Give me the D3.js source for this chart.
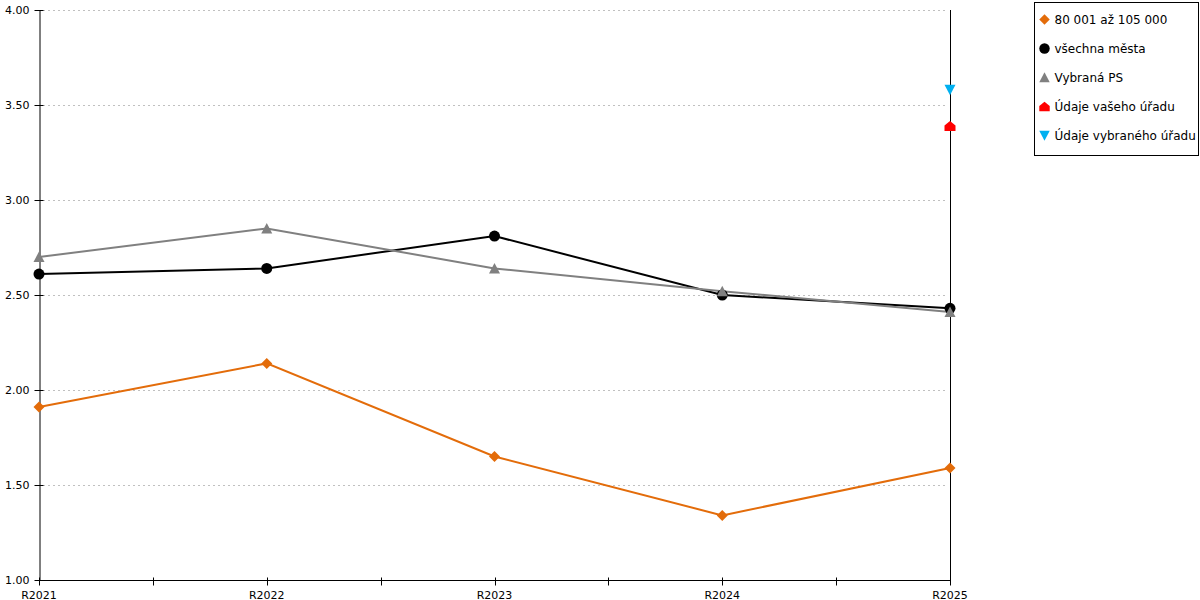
<!DOCTYPE html>
<html>
<head>
<meta charset="utf-8">
<script src="https://cdn.jsdelivr.net/npm/d3@7"></script>
<style>
  body { margin: 0; background: #fff; }
  svg { font-family: "DejaVu Sans", Verdana, sans-serif; }
</style>
</head>
<body>
<div id="chart"></div>
<script>
const width = 1200;
const height = 600;

const categories = ["R2021", "R2022", "R2023", "R2024", "R2025"];
const yTicks = [1.0, 1.5, 2.0, 2.5, 3.0, 3.5, 4.0];

const sizeGroup = [1.91, 2.14, 1.65, 1.34, 1.59];
const allCities = [2.61, 2.64, 2.81, 2.5, 2.43];
const selectedPS = [2.7, 2.85, 2.64, 2.52, 2.41];
const yourOffice = [null, null, null, null, 3.39];
const selectedOffice = [null, null, null, null, 3.58];

const series = [
  { name: "80 001 až 105 000", values: sizeGroup, color: "#e36c0a", shape: "diamond", line: true },
  { name: "všechna města", values: allCities, color: "#000000", shape: "circle", line: true },
  { name: "Vybraná PS", values: selectedPS, color: "#808080", shape: "triangle", line: true },
  { name: "Údaje vašeho úřadu", values: yourOffice, color: "#ff0000", shape: "house", line: false },
  { name: "Údaje vybraného úřadu", values: selectedOffice, color: "#00b0f0", shape: "triangleDown", line: false },
];

const shapes = {
  diamond: "M0,-5.5L5.5,0L0,5.5L-5.5,0Z",
  circle: d3.symbol(d3.symbolCircle, 95)(),
  triangle: "M0,-5.5L5.5,5L-5.5,5Z",
  house: "M-5.5,5L5.5,5L5.5,-0.5L0,-5L-5.5,-0.5Z",
  triangleDown: "M-5.5,-5L5.5,-5L0,5.5Z",
};

const margin = { left: 39, right: 950, top: 10, bottom: 580 };

const x = d3.scalePoint().domain(categories).range([margin.left, margin.right]);
const y = d3.scaleLinear().domain([1, 4]).range([margin.bottom, margin.top]);

const svg = d3.select("#chart")
  .append("svg")
  .attr("width", width)
  .attr("height", height);

// grid
svg.append("g")
  .selectAll("line")
  .data(yTicks.filter((d) => d > 1))
  .enter()
  .append("line")
  .attr("x1", margin.left + 4)
  .attr("x2", margin.right - 3)
  .attr("y1", (d) => y(d) + 0.5)
  .attr("y2", (d) => y(d) + 0.5)
  .attr("stroke", "#c0c0c0")
  .attr("stroke-dasharray", "2,3");

// y axis
const yAxis = svg.append("g")
  .attr("transform", `translate(${margin.left + 0.5},0)`)
  .call(d3.axisLeft(y).tickValues(yTicks).tickFormat(d3.format(".2f")).tickSize(0).tickPadding(10));
yAxis.select(".domain").attr("stroke", "#000");
yAxis.selectAll(".tick")
  .append("line")
  .attr("x1", -5)
  .attr("x2", 4)
  .attr("stroke", "#000");
yAxis.selectAll("text").attr("font-size", 11).attr("fill", "#000")
  .attr("font-family", "DejaVu Sans, Verdana, sans-serif");

// x axis
const xAxis = svg.append("g")
  .attr("transform", `translate(0,${margin.bottom + 0.5})`);
xAxis.append("line")
  .attr("x1", margin.left)
  .attr("x2", margin.right)
  .attr("stroke", "#000");

const step = x.step();
const tickPos = [];
categories.forEach((c, i) => {
  tickPos.push(x(c));
  if (i < categories.length - 1) tickPos.push(x(c) + step / 2);
});
xAxis.selectAll("line.tick")
  .data(tickPos)
  .enter()
  .append("line")
  .attr("class", "tick")
  .attr("x1", (d) => Math.round(d) + 0.5)
  .attr("x2", (d) => Math.round(d) + 0.5)
  .attr("y1", -3)
  .attr("y2", 5)
  .attr("stroke", "#000");
xAxis.selectAll("text")
  .data(categories)
  .enter()
  .append("text")
  .attr("x", (d) => x(d))
  .attr("y", 18)
  .attr("text-anchor", "middle")
  .attr("font-size", 11)
  .text((d) => d);

// right vertical line at last category
svg.append("line")
  .attr("x1", margin.right + 0.5)
  .attr("x2", margin.right + 0.5)
  .attr("y1", margin.top)
  .attr("y2", margin.bottom)
  .attr("stroke", "#000");

// lines
const line = d3.line()
  .defined((d) => d != null)
  .x((d, i) => x(categories[i]))
  .y((d) => y(d));

series.filter((s) => s.line).forEach((s) => {
  svg.append("path")
    .datum(s.values)
    .attr("d", line)
    .attr("fill", "none")
    .attr("stroke", s.color)
    .attr("stroke-width", 2);
});

// markers
series.forEach((s) => {
  svg.append("g")
    .selectAll("path")
    .data(s.values.map((v, i) => ({ v, c: categories[i] })).filter((d) => d.v != null))
    .enter()
    .append("path")
    .attr("d", shapes[s.shape])
    .attr("transform", (d) => `translate(${x(d.c)},${y(d.v)})`)
    .attr("fill", s.color);
});

// legend
const legend = svg.append("g").attr("transform", "translate(1034.5,2.5)");
legend.append("rect")
  .attr("width", 164)
  .attr("height", 153)
  .attr("fill", "#fff")
  .attr("stroke", "#000");

const items = legend.selectAll("g")
  .data(series)
  .enter()
  .append("g")
  .attr("transform", (d, i) => `translate(10,${17 + i * 29})`);
items.append("path")
  .attr("d", (d) => shapes[d.shape])
  .attr("transform", "scale(0.95)")
  .attr("fill", (d) => d.color);
items.append("text")
  .attr("x", 10)
  .attr("y", 4)
  .attr("font-size", 12)
  .text((d) => d.name);
</script>
</body>
</html>
